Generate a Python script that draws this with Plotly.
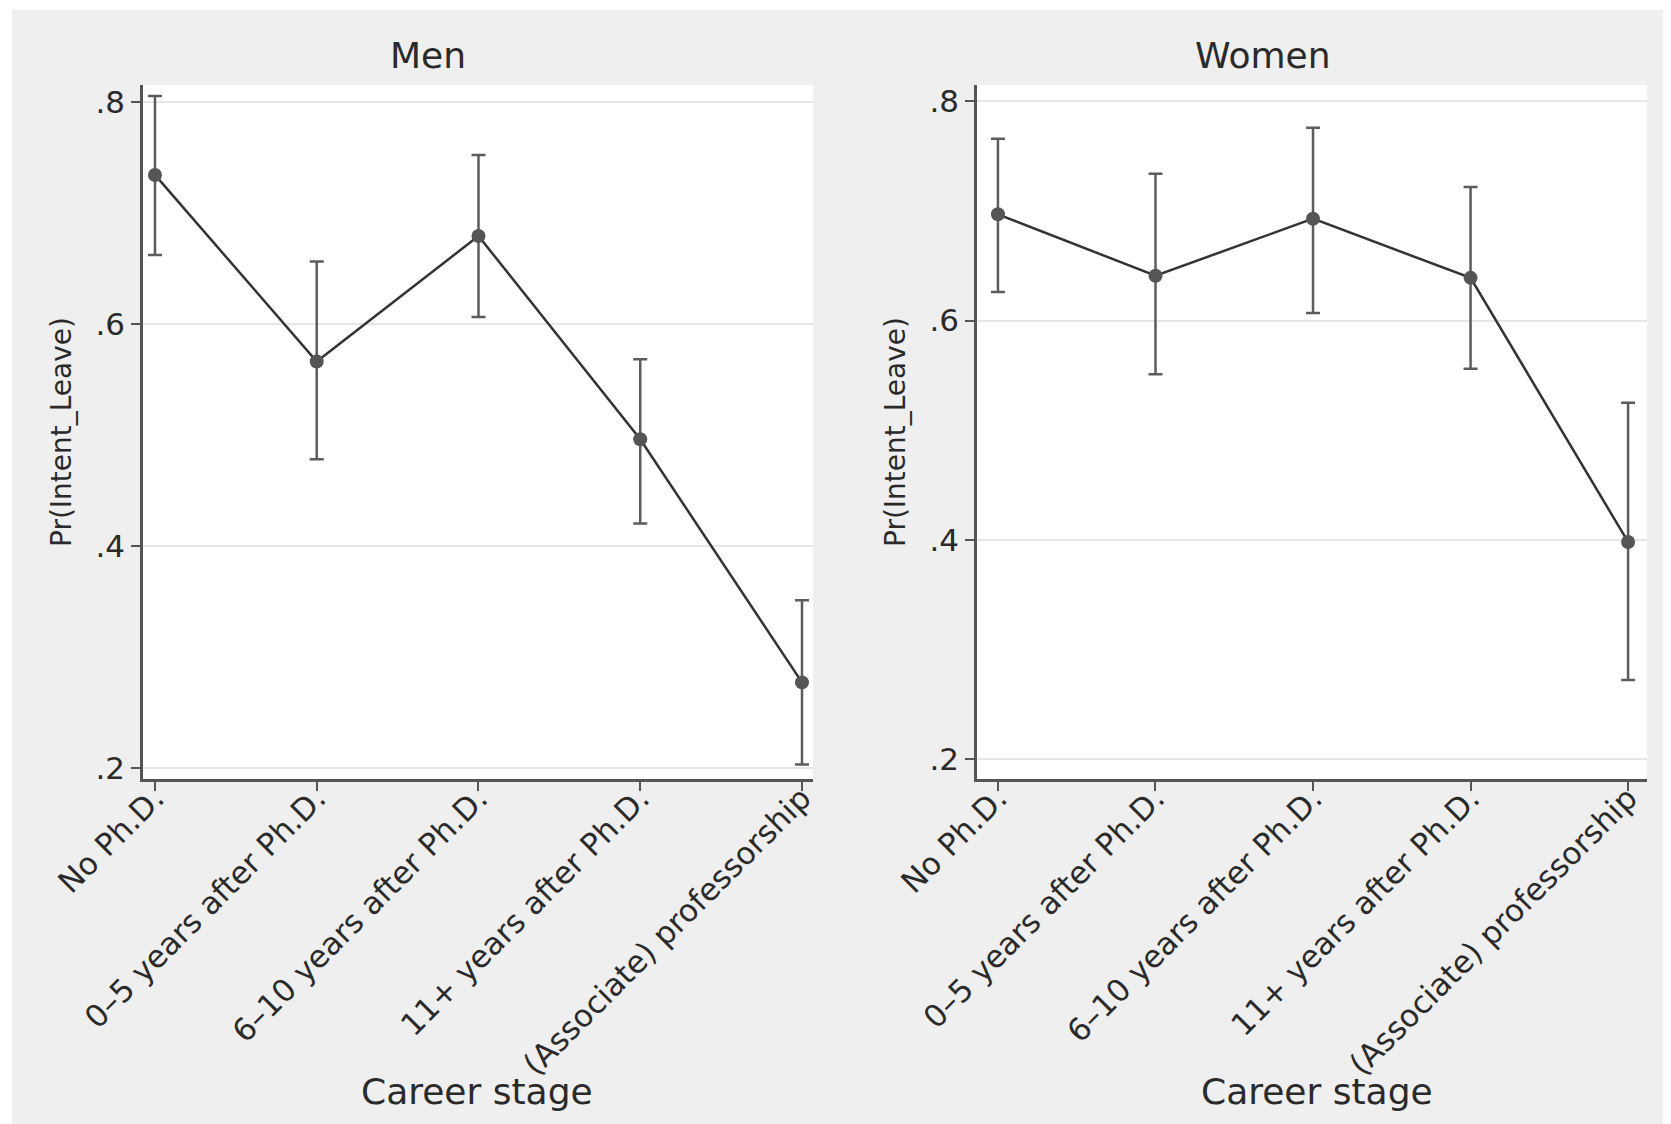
import plotly.graph_objects as go

categories = ["No Ph.D.", "0\u20135 years after Ph.D.", "6\u201310 years after Ph.D.",
              "11+ years after Ph.D.", "(Associate) professorship"]

men_est = [0.734, 0.566, 0.679, 0.496, 0.277]
men_hi = [0.805, 0.656, 0.752, 0.568, 0.351]
men_lo = [0.662, 0.478, 0.606, 0.420, 0.203]

women_est = [0.697, 0.641, 0.693, 0.639, 0.398]
women_hi = [0.766, 0.734, 0.776, 0.722, 0.525]
women_lo = [0.626, 0.551, 0.607, 0.556, 0.272]

y_tickvals = [0.2, 0.4, 0.6, 0.8]
y_ticktext = [".2", ".4", ".6", ".8"]

# page has an 8px body margin; figure is sized to fill the rest of the window
OFF = 8
W, H = 1671 - OFF, 1124 - OFF
FONT = "DejaVu Sans"
TXT = "#2a2a2a"


def px(x):
    return (x - OFF) / W


def py(y):
    return 1 - (y - OFF) / H


fig = go.Figure()


def add_panel(est, hi, lo, xa, ya):
    xs = list(range(len(categories)))
    fig.add_trace(go.Scatter(
        x=xs, y=est, mode="lines+markers",
        line=dict(color="#333333", width=2.5),
        marker=dict(color="#555555", size=14),
        error_y=dict(type="data", symmetric=False,
                     array=[h - e for h, e in zip(hi, est)],
                     arrayminus=[e - l for e, l in zip(est, lo)],
                     color="#5c5c5c", thickness=2.5, width=7),
        xaxis=xa, yaxis=ya, showlegend=False, hoverinfo="skip"))


add_panel(men_est, men_hi, men_lo, "x", "y")
add_panel(women_est, women_hi, women_lo, "x2", "y2")

ydom = [py(779), py(85)]

xcommon = dict(tickmode="array", tickvals=list(range(len(categories))), ticktext=categories,
               tickangle=-45, ticks="outside", ticklen=9, tickwidth=1.8, tickcolor="#555555",
               showline=True, linecolor="#555555", linewidth=2.5, showgrid=False, zeroline=False,
               automargin=False, ticklabelstandoff=-23,
               tickfont=dict(family=FONT, size=31, color=TXT))
ycommon = dict(tickmode="array", tickvals=y_tickvals, ticktext=y_ticktext,
               ticks="outside", ticklen=9, tickwidth=1.8, tickcolor="#555555",
               showline=True, linecolor="#555555", linewidth=2.5,
               showgrid=True, gridcolor="#e6e6e6", gridwidth=1.5, zeroline=False,
               automargin=False,
               tickfont=dict(family=FONT, size=31, color=TXT), domain=ydom)

fig.update_layout(
    width=W, height=H,
    margin=dict(l=0, r=0, t=0, b=0, pad=0),
    paper_bgcolor="#efefef",
    plot_bgcolor="#ffffff",
    xaxis=dict(xcommon, domain=[px(143), px(813)], range=[-0.074, 4.068], anchor="y"),
    yaxis=dict(ycommon, range=[0.190, 0.815], anchor="x"),
    xaxis2=dict(xcommon, domain=[px(977), px(1647)], range=[-0.133, 4.12], anchor="y2"),
    yaxis2=dict(ycommon, range=[0.1817, 0.815], anchor="x2"),
    shapes=[
        dict(type="rect", xref="paper", yref="paper", x0=0, x1=px(12), y0=0, y1=1,
             fillcolor="#ffffff", line=dict(width=0), layer="below"),
        dict(type="rect", xref="paper", yref="paper", x0=0, x1=1, y0=py(10), y1=1,
             fillcolor="#ffffff", line=dict(width=0), layer="below"),
    ],
    annotations=[
        dict(text="Men", x=px(428), y=py(55), xref="paper", yref="paper",
             showarrow=False, xanchor="center", yanchor="middle",
             font=dict(family=FONT, size=36, color=TXT)),
        dict(text="Women", x=px(1263), y=py(55), xref="paper", yref="paper",
             showarrow=False, xanchor="center", yanchor="middle",
             font=dict(family=FONT, size=36, color=TXT)),
        dict(text="Career stage", x=px(477), y=py(1091), xref="paper", yref="paper",
             showarrow=False, xanchor="center", yanchor="middle",
             font=dict(family=FONT, size=36, color=TXT)),
        dict(text="Career stage", x=px(1317), y=py(1091), xref="paper", yref="paper",
             showarrow=False, xanchor="center", yanchor="middle",
             font=dict(family=FONT, size=36, color=TXT)),
        dict(text="Pr(Intent_Leave)", x=px(61), y=py(432), xref="paper", yref="paper",
             showarrow=False, xanchor="center", yanchor="middle", textangle=-90,
             font=dict(family=FONT, size=28, color=TXT)),
        dict(text="Pr(Intent_Leave)", x=px(895), y=py(432), xref="paper", yref="paper",
             showarrow=False, xanchor="center", yanchor="middle", textangle=-90,
             font=dict(family=FONT, size=28, color=TXT)),
    ],
)

fig.write_html("out.html")
